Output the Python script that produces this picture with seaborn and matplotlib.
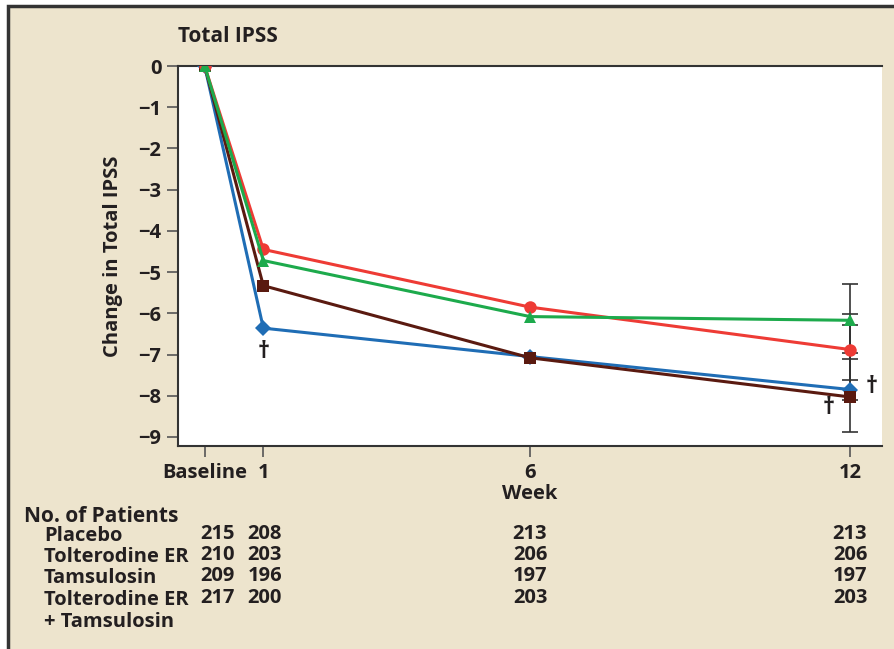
import pandas as pd
import seaborn as sns
import matplotlib.pyplot as plt
import matplotlib.transforms as mtransforms
from matplotlib.patches import Rectangle

# data
weeks = [0, 1, 6, 12]
week_labels = ["Baseline", "1", "6", "12"]
placebo = [0, -4.45, -5.85, -6.88]
tolterodine = [0, -4.72, -6.08, -6.17]
tamsulosin = [0, -6.36, -7.05, -7.85]
combination = [0, -5.33, -7.08, -8.03]

# week 12 error bar ends (upper, lower)
placebo_err = (-6.01, -7.63)
tolterodine_err = (-5.30, -7.11)
tamsulosin_err = (-6.97, -8.87)
combination_err = (-6.28, -8.10)

# number of patients per visit
row_labels = ["Placebo", "Tolterodine ER", "Tamsulosin", "Tolterodine ER"]
placebo_n = [215, 208, 213, 213]
tolterodine_n = [210, 203, 206, 206]
tamsulosin_n = [209, 196, 197, 197]
combination_n = [217, 200, 203, 203]

groups = ["Tamsulosin", "Combination", "Placebo", "Tolterodine ER"]
series = [tamsulosin, combination, placebo, tolterodine]
errs = [tamsulosin_err, combination_err, placebo_err, tolterodine_err]
palette = {"Tamsulosin": "#1f6db5", "Combination": "#5a1a10",
           "Placebo": "#ee3b35", "Tolterodine ER": "#1daa4c"}
markers = {"Tamsulosin": "D", "Combination": "s", "Placebo": "o", "Tolterodine ER": "^"}
msize = {"Tamsulosin": 8.5, "Combination": 9, "Placebo": 9, "Tolterodine ER": 9}

# baseline is drawn slightly left of week 0 as in the original
x_pos = [-0.1, 1, 6, 12]

df = pd.DataFrame({
    "week": x_pos * len(groups),
    "change": [v for s in series for v in s],
    "group": [g for g in groups for _ in weeks],
})

sns.set_style("ticks")
plt.rcParams['font.family'] = ['Open Sans', 'DejaVu Sans']
plt.rcParams['font.weight'] = 'bold'

beige = "#ede4cd"
dark = "#231f20"
fs = 14.5

fig = plt.figure(figsize=(8.94, 6.49), dpi=100)
fig.patch.set_facecolor("white")
frame = Rectangle((8 / 894, -0.05), 1.05, 1 - 6 / 649 + 0.05,
                  transform=fig.transFigure, facecolor=beige,
                  edgecolor="#333333", linewidth=2.5, zorder=-10)
fig.patches.append(frame)

ax = fig.add_axes([178 / 894, 1 - 446 / 649, (882 - 178) / 894, (446 - 66) / 649])
ax.set_facecolor("white")

# week 12 error bars behind the markers
for g, (hi, lo), s in zip(groups, errs, series):
    ax.errorbar([x_pos[-1]], [s[-1]], yerr=[[s[-1] - lo], [hi - s[-1]]], fmt="none",
                ecolor="#333333", elinewidth=1.2, capsize=6, capthick=1.2, zorder=1)

for g, s in zip(groups, series):
    sub = df[df["group"] == g]
    sns.lineplot(data=sub, x="week", y="change", color=palette[g], marker=markers[g],
                 markersize=msize[g], markeredgewidth=0, linewidth=2.2, ax=ax,
                 legend=False, zorder=3)

ax.set_xlim(-0.6, 12.6)
ax.set_ylim(-9.22, 0)
ax.set_xticks(x_pos)
ax.set_xticklabels(week_labels)
ax.set_yticks(range(0, -10, -1))
ax.set_yticklabels(["0"] + [f"\u2212{i}" for i in range(1, 10)])
ax.tick_params(axis="both", direction="out", length=8, width=1.2, color="#555555",
               labelsize=fs, labelcolor=dark, pad=4)
for lab in ax.get_xticklabels() + ax.get_yticklabels():
    lab.set_fontweight("bold")
for side in ["left", "bottom", "top"]:
    ax.spines[side].set_color("#333333")
    ax.spines[side].set_linewidth(1.5)
ax.spines["right"].set_visible(False)
ax.set_xlabel("Week", fontsize=fs, fontweight="bold", color=dark, labelpad=1)
ax.set_ylabel("Change in Total IPSS", fontsize=fs, fontweight="bold", color=dark, labelpad=11)

# significance marks
ax.text(1, -6.95, "\u2020", ha="center", va="center", fontsize=17, color=dark)
ax.text(11.6, -8.3, "\u2020", ha="center", va="center", fontsize=17, color=dark)
ax.text(12.4, -7.8, "\u2020", ha="center", va="center", fontsize=17, color=dark)

fig.text(178 / 894, 1 - 37 / 649, "Total IPSS", fontsize=15, fontweight="bold",
         color=dark, ha="left", va="center")

# patient counts table
trans = mtransforms.blended_transform_factory(ax.transData, fig.transFigure)
fig.text(24 / 894, 1 - 516 / 649, "No. of Patients", fontsize=15, fontweight="bold",
         color=dark, ha="left", va="center")
col_x = [0.14, 1.03, 6, 12]
row_y = [536, 557, 578, 600]
for lab, counts, y in zip(row_labels, [placebo_n, tolterodine_n, tamsulosin_n, combination_n], row_y):
    fig.text(44 / 894, 1 - y / 649, lab, fontsize=fs, fontweight="bold",
             color=dark, ha="left", va="center")
    for x, n in zip(col_x, counts):
        ax.text(x, 1 - (y - 2) / 649, str(n), transform=trans, fontsize=fs,
                fontweight="bold", color=dark, ha="center", va="center")
fig.text(44 / 894, 1 - 622 / 649, "+ Tamsulosin", fontsize=fs, fontweight="bold",
         color=dark, ha="left", va="center")

fig.savefig("out.png", dpi=100, facecolor=fig.get_facecolor())
